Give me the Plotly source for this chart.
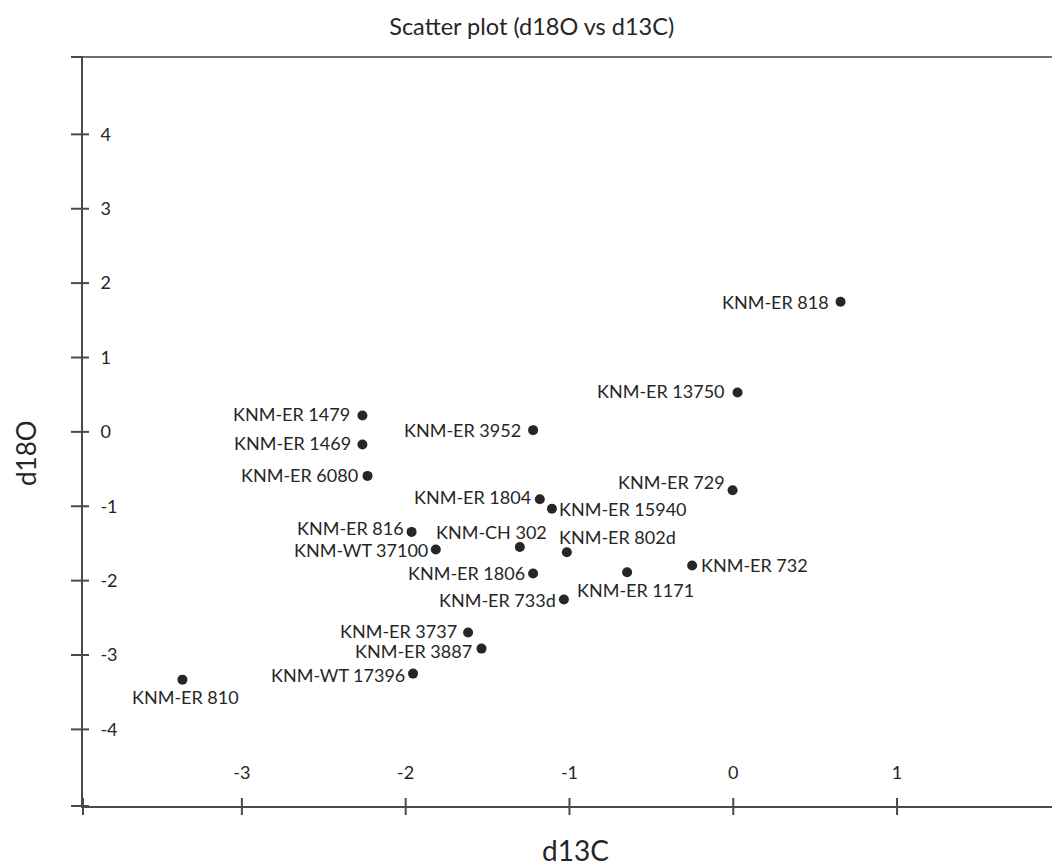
import plotly.graph_objects as go

# Specimen labels and stable isotope values
specimens = [
    "KNM-ER 818", "KNM-ER 13750", "KNM-ER 729", "KNM-ER 15940", "KNM-ER 802d",
    "KNM-ER 1171", "KNM-ER 732", "KNM-ER 733d", "KNM-ER 1479", "KNM-ER 1469",
    "KNM-ER 6080", "KNM-ER 3952", "KNM-ER 1804", "KNM-ER 816", "KNM-WT 37100",
    "KNM-CH 302", "KNM-ER 1806", "KNM-ER 3737", "KNM-ER 3887", "KNM-WT 17396",
    "KNM-ER 810",
]
d13c = [
    0.655, 0.026, -0.004, -1.107, -1.016,
    -0.648, -0.251, -1.034, -2.264, -2.264,
    -2.233, -1.222, -1.181, -1.964, -1.816,
    -1.303, -1.222, -1.619, -1.537, -1.955,
    -3.363,
]
d18o = [
    1.749, 0.530, -0.784, -1.033, -1.618,
    -1.887, -1.797, -2.254, 0.221, -0.169,
    -0.592, 0.023, -0.905, -1.345, -1.582,
    -1.547, -1.905, -2.698, -2.914, -3.250,
    -3.331,
]

x_ticks = [-3, -2, -1, 0, 1]
y_ticks = [-4, -3, -2, -1, 0, 1, 2, 3, 4]
x_range = [-3.97, 1.946]
y_range = [-5.03, 5.04]

# Label placement per specimen: (xanchor, yanchor, xshift px, yshift px)
label_style = {
    "KNM-ER 818": ("right", "middle", -10, 0),
    "KNM-ER 13750": ("right", "middle", -11, 1),
    "KNM-ER 729": ("right", "middle", -6, 8),
    "KNM-ER 15940": ("left", "middle", 5, 0),
    "KNM-ER 802d": ("left", "middle", -10, 15),
    "KNM-ER 1171": ("center", "middle", 8, -18),
    "KNM-ER 732": ("left", "middle", 7, 1),
    "KNM-ER 733d": ("right", "middle", -6, 0),
    "KNM-ER 1479": ("right", "middle", -10, 1),
    "KNM-ER 1469": ("right", "middle", -9, 1),
    "KNM-ER 6080": ("right", "middle", -8, 1),
    "KNM-ER 3952": ("right", "middle", -10, 0),
    "KNM-ER 1804": ("right", "middle", -7, 2),
    "KNM-ER 816": ("right", "middle", -6, 4),
    "KNM-WT 37100": ("right", "middle", -6, 0),
    "KNM-CH 302": ("center", "middle", -28, 15),
    "KNM-ER 1806": ("right", "middle", -6, 1),
    "KNM-ER 3737": ("right", "middle", -9, 2),
    "KNM-ER 3887": ("right", "middle", -8, -2),
    "KNM-WT 17396": ("right", "middle", -6, -1),
    "KNM-ER 810": ("center", "middle", 3, -17),
}

FONT = "Lato"
TEXT = "#262626"
AXIS = "#4a4a4a"

fig = go.Figure()
fig.add_trace(go.Scatter(
    x=d13c, y=d18o, mode="markers",
    marker=dict(size=10, color="#262626"),
    hoverinfo="text", text=specimens, showlegend=False,
))

annotations = []
for name, xv, yv in zip(specimens, d13c, d18o):
    xa, ya, dx, dy = label_style[name]
    annotations.append(dict(
        x=xv, y=yv, xref="x", yref="y", text=name, showarrow=False,
        xanchor=xa, yanchor=ya, xshift=dx, yshift=dy,
        font=dict(family=FONT, size=18, color=TEXT),
    ))

# Axis titles
annotations.append(dict(
    text="d13C", xref="paper", yref="paper", x=(575.5 - 83) / 969, y=-(850 - 806) / 749,
    xanchor="center", yanchor="middle", showarrow=False,
    font=dict(family=FONT, size=28, color=TEXT),
))
annotations.append(dict(
    text="d18O", xref="paper", yref="paper", x=-(83 - 26) / 969, y=(806 - 453) / 749,
    xanchor="center", yanchor="middle", showarrow=False, textangle=-90,
    font=dict(family=FONT, size=26, color=TEXT),
))


def frac(v, rng):
    return (v - rng[0]) / (rng[1] - rng[0])


shapes = []
# Cross tick marks on the vertical axis, including both ends of the axis
for yv in y_ticks + y_range:
    f = frac(yv, y_range)
    shapes.append(dict(
        type="line", xref="paper", yref="y domain", xsizemode="pixel", xanchor=0,
        x0=-12, x1=6, y0=f, y1=f, line=dict(color=AXIS, width=2),
    ))
# Cross tick marks on the horizontal axis, including the left end
for xv in x_ticks + [x_range[0]]:
    f = frac(xv, x_range)
    shapes.append(dict(
        type="line", xref="x domain", yref="paper", ysizemode="pixel", yanchor=0,
        y0=-9, y1=8, x0=f, x1=f, line=dict(color=AXIS, width=2),
    ))
# Top border of the plot area
shapes.append(dict(
    type="line", xref="paper", yref="paper", x0=0, x1=1, y0=1, y1=1,
    line=dict(color="#6e6e6e", width=2),
))

fig.update_layout(
    width=1052, height=867,
    margin=dict(l=83, r=0, t=57, b=61),
    paper_bgcolor="white", plot_bgcolor="white",
    title=dict(
        text="Scatter plot (d18O vs d13C)",
        x=531.7 / 1052, xanchor="center", xref="container",
        y=1 - 27 / 867, yanchor="middle", yref="container",
        font=dict(family=FONT, size=23.5, color=TEXT),
    ),
    xaxis=dict(
        range=x_range, showgrid=False, zeroline=False,
        showline=True, linecolor=AXIS, linewidth=2,
        tickvals=x_ticks, ticktext=[str(v) for v in x_ticks],
        ticks="", ticklabelposition="inside", ticklabelstandoff=24,
        tickfont=dict(family=FONT, size=18, color=TEXT),
    ),
    yaxis=dict(
        range=y_range, showgrid=False, zeroline=False,
        showline=True, linecolor=AXIS, linewidth=2,
        tickvals=y_ticks, ticktext=[str(v) for v in y_ticks],
        ticks="", ticklabelposition="inside", ticklabelstandoff=18,
        tickfont=dict(family=FONT, size=18, color=TEXT),
    ),
    shapes=shapes,
    annotations=annotations,
)

fig.write_html("out.html")
